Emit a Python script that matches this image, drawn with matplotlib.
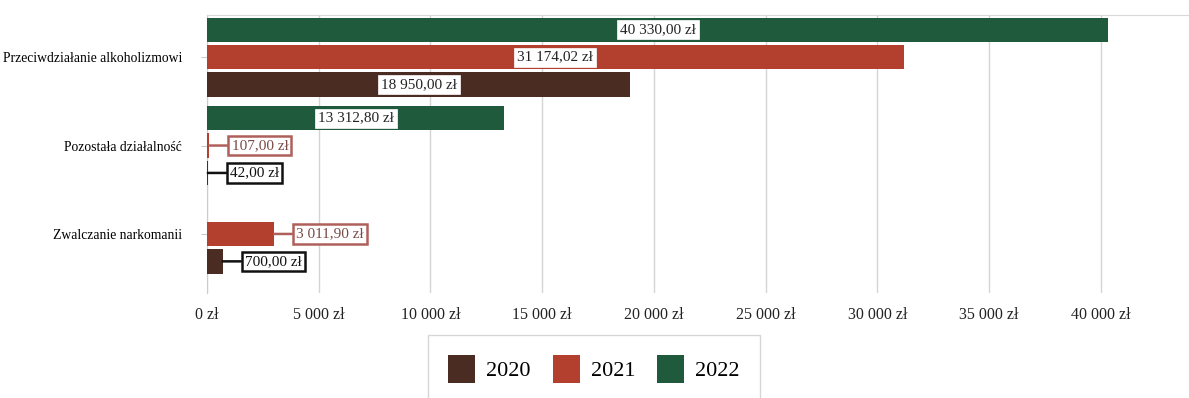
import matplotlib.pyplot as plt
from matplotlib.patches import Patch
from matplotlib.ticker import FuncFormatter
import numpy as np

plt.rcParams["font.family"] = ["Liberation Serif", "DejaVu Serif"]

categories = [
    "Przeciwdziałanie alkoholizmowi",
    "Pozostała działalność",
    "Zwalczanie narkomanii",
]
years = ["2020", "2021", "2022"]
values_2020 = [18950.00, 42.00, 700.00]
values_2021 = [31174.02, 107.00, 3011.90]
values_2022 = [40330.00, 13312.80, 0.0]
x_ticks = [0, 5000, 10000, 15000, 20000, 25000, 30000, 35000, 40000]

colors = {"2020": "#4a2c22", "2021": "#b3402e", "2022": "#1f5a3d"}
edge_label = {"2020": "#111111", "2021": "#b0605a"}
text_label = {"2020": "#111111", "2021": "#7a4a45"}


def fmt_pln(value, decimals=2):
    whole = int(round(value * 100)) // 100
    frac = int(round(value * 100)) % 100
    txt = f"{whole:,}".replace(",", " ")
    if decimals:
        txt += f",{frac:02d}"
    return txt + " zł"


figure, axes = plt.subplots(figsize=(11.89, 3.98), dpi=100)
figure.subplots_adjust(left=0.174, right=1.02, top=0.962, bottom=0.264)

y = np.arange(len(categories))
step = 0.31
height = 0.275
series = [("2022", values_2022, -step), ("2021", values_2021, 0.0), ("2020", values_2020, step)]

for year, vals, off in series:
    bars = axes.barh(y + off, vals, height=height, color=colors[year], zorder=3)
    for bar, v in zip(bars, vals):
        if v <= 0:
            continue
        yc = bar.get_y() + bar.get_height() / 2
        if v > 8000:
            axes.text(v / 2, yc, fmt_pln(v), ha="center", va="center",
                      fontsize=11, color="#222222", zorder=5,
                      bbox=dict(boxstyle="square,pad=0.2", fc="white", ec="white", lw=0.5))
        else:
            axes.annotate(fmt_pln(v), xy=(v, yc), xytext=(16, 0),
                          textcoords="offset points", ha="left", va="center",
                          fontsize=11, color=text_label[year], zorder=5,
                          bbox=dict(boxstyle="square,pad=0.2", fc="white",
                                    ec=edge_label[year], lw=1.8),
                          arrowprops=dict(arrowstyle="-", color=edge_label[year],
                                          lw=1.8, shrinkA=0, shrinkB=0))

axes.set_yticks(y)
axes.set_yticklabels(categories, fontsize=9.8, color="#000000")
axes.set_ylim(2.667, -0.475)
axes.set_xlim(0, 45000)
axes.set_xticks(x_ticks)
axes.xaxis.set_major_formatter(FuncFormatter(lambda v, p: fmt_pln(v, 0)))
axes.tick_params(axis="x", labelsize=11.5, length=0, pad=10, colors="#222222")
axes.tick_params(axis="y", length=4, color="#cccccc", pad=14)
axes.grid(axis="x", color="#d4d4d4", lw=1.0)
axes.set_axisbelow(True)
for side in ["right", "bottom"]:
    axes.spines[side].set_visible(False)
axes.spines["top"].set_color("#d8d8d8")
axes.spines["left"].set_color("#cccccc")

handles = [Patch(facecolor=colors[yr], edgecolor="none") for yr in years]
figure.legend(handles, years, loc="upper left", bbox_to_anchor=(0.351, 0.185),
              ncol=3, frameon=True, fontsize=16, handlelength=1.2, handleheight=1.5,
              handletextpad=0.5, columnspacing=1.0, borderpad=0.9, fancybox=False,
              edgecolor="#cccccc")

figure.savefig("out.png", dpi=100)
